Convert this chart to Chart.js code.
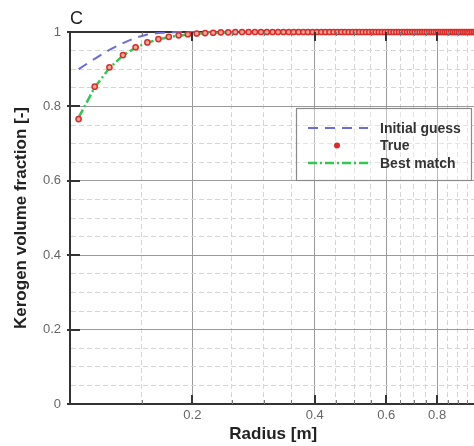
<!DOCTYPE html>
<html>
<head>
<meta charset="utf-8">
<script src="https://cdn.jsdelivr.net/npm/chart.js@4.4.1/dist/chart.umd.min.js"></script>
<style>
  html, body { margin: 0; padding: 0; background: #fff; overflow: hidden; }
  #wrap { width: 474px; height: 446px; overflow: hidden; }
</style>
</head>
<body>
<div id="wrap"><canvas id="chart" width="482" height="446"></canvas></div>
<script>
// radius samples [m]
const radius = [
  0.105, 0.115, 0.125, 0.135, 0.145, 0.155, 0.165, 0.175, 0.185, 0.195,
  0.205, 0.215, 0.225, 0.235, 0.245, 0.255, 0.265, 0.275, 0.285, 0.295,
  0.305, 0.315, 0.325, 0.335, 0.345, 0.355, 0.365, 0.375, 0.385, 0.395,
  0.405, 0.415, 0.425, 0.435, 0.445, 0.455, 0.465, 0.475, 0.485, 0.495,
  0.505, 0.515, 0.525, 0.535, 0.545, 0.555, 0.565, 0.575, 0.585, 0.595,
  0.605, 0.615, 0.625, 0.635, 0.645, 0.655, 0.665, 0.675, 0.685, 0.695,
  0.705, 0.715, 0.725, 0.735, 0.745, 0.755, 0.765, 0.775, 0.785, 0.795,
  0.805, 0.815, 0.825, 0.835, 0.845, 0.855, 0.865, 0.875, 0.885, 0.895,
  0.905, 0.915, 0.925, 0.935, 0.945, 0.955, 0.965, 0.975, 0.985, 0.995
];

const initialGuess = [
  0.900, 0.928, 0.952, 0.970, 0.985, 0.993, 0.997, 0.999, 1, 1,
  1, 1, 1, 1, 1, 1, 1, 1, 1, 1,
  1, 1, 1, 1, 1, 1, 1, 1, 1, 1,
  1, 1, 1, 1, 1, 1, 1, 1, 1, 1,
  1, 1, 1, 1, 1, 1, 1, 1, 1, 1,
  1, 1, 1, 1, 1, 1, 1, 1, 1, 1,
  1, 1, 1, 1, 1, 1, 1, 1, 1, 1,
  1, 1, 1, 1, 1, 1, 1, 1, 1, 1,
  1, 1, 1, 1, 1, 1, 1, 1, 1, 1
];

const trueFraction = [
  0.766, 0.853, 0.905, 0.938, 0.959, 0.972, 0.981, 0.987, 0.991, 0.994,
  0.996, 0.997, 0.998, 0.999, 0.999, 1, 1, 1, 1, 1,
  1, 1, 1, 1, 1, 1, 1, 1, 1, 1,
  1, 1, 1, 1, 1, 1, 1, 1, 1, 1,
  1, 1, 1, 1, 1, 1, 1, 1, 1, 1,
  1, 1, 1, 1, 1, 1, 1, 1, 1, 1,
  1, 1, 1, 1, 1, 1, 1, 1, 1, 1,
  1, 1, 1, 1, 1, 1, 1, 1, 1, 1,
  1, 1, 1, 1, 1, 1, 1, 1, 1, 1
];

const bestMatch = [
  0.770, 0.851, 0.903, 0.937, 0.958, 0.971, 0.980, 0.986, 0.990, 0.993,
  0.995, 0.997, 0.998, 0.998, 0.999, 0.999, 1, 1, 1, 1,
  1, 1, 1, 1, 1, 1, 1, 1, 1, 1,
  1, 1, 1, 1, 1, 1, 1, 1, 1, 1,
  1, 1, 1, 1, 1, 1, 1, 1, 1, 1,
  1, 1, 1, 1, 1, 1, 1, 1, 1, 1,
  1, 1, 1, 1, 1, 1, 1, 1, 1, 1,
  1, 1, 1, 1, 1, 1, 1, 1, 1, 1,
  1, 1, 1, 1, 1, 1, 1, 1, 1, 1
];

const xTickLabels = [0.2, 0.4, 0.6, 0.8];
const xMinorTicks = [0.15, 0.25, 0.3, 0.35, 0.45, 0.5, 0.55, 0.65, 0.7, 0.75, 0.85, 0.9, 0.95];
const yTickLabels = [0, 0.2, 0.4, 0.6, 0.8, 1];

const toPoints = ys => radius.map((r, i) => ({ x: r, y: ys[i] }));
const isMajorY = v => Math.abs(v * 5 - Math.round(v * 5)) < 1e-6;
const isMajorX = v => xTickLabels.some(t => Math.abs(t - v) < 1e-9);

// inward tick marks, panel letter and the boxed legend
const decorations = {
  id: 'decorations',
  afterDraw(chart) {
    const { ctx, chartArea: a, scales: { x, y } } = chart;
    const seg = (x1, y1, x2, y2) => { ctx.beginPath(); ctx.moveTo(x1, y1); ctx.lineTo(x2, y2); ctx.stroke(); };
    ctx.save();
    ctx.strokeStyle = '#333';
    ctx.lineWidth = 2;
    xTickLabels.forEach(v => {
      const px = Math.round(x.getPixelForValue(v));
      seg(px, a.bottom, px, a.bottom - 9);
      seg(px, a.top, px, a.top + 9);
    });
    yTickLabels.forEach(v => {
      const py = Math.round(y.getPixelForValue(v));
      seg(a.left - 3, py, a.left + 10, py);
    });
    ctx.lineWidth = 1;
    ctx.strokeStyle = '#777';
    xMinorTicks.forEach(v => {
      const px = Math.round(x.getPixelForValue(v)) + 0.5;
      seg(px, a.bottom, px, a.bottom - 4);
      seg(px, a.top, px, a.top + 4);
    });

    // panel letter
    ctx.fillStyle = '#222';
    ctx.font = '18px "Liberation Sans", Arial, sans-serif';
    ctx.textBaseline = 'alphabetic';
    ctx.textAlign = 'left';
    ctx.fillText('C', a.left, 24);

    // legend
    const lx = 296, ly = a.top + 76, lw = 175, lh = 72;
    ctx.fillStyle = 'rgba(255,255,255,0.35)';
    ctx.fillRect(lx, ly, lw, lh);
    ctx.strokeStyle = '#8a8a8a';
    ctx.lineWidth = 1.2;
    ctx.strokeRect(lx + 0.5, ly + 0.5, lw, lh);
    ctx.font = 'bold 14px "Liberation Sans", Arial, sans-serif';
    ctx.textBaseline = 'middle';
    const ds = chart.data.datasets;
    ds.forEach((d, i) => {
      const ry = ly + 20 + i * 17.5;
      if (d.showLine) {
        ctx.save();
        ctx.strokeStyle = d.borderColor;
        ctx.lineWidth = d.borderWidth;
        ctx.setLineDash(d.borderDash);
        seg(lx + 12, ry, lx + 72, ry);
        ctx.restore();
      } else {
        ctx.beginPath();
        ctx.arc(lx + 41, ry, 3, 0, Math.PI * 2);
        ctx.fillStyle = d.pointBorderColor;
        ctx.fill();
      }
      ctx.fillStyle = '#333';
      ctx.fillText(d.label, lx + 84, ry + 1);
    });
    ctx.restore();
  }
};

new Chart(document.getElementById('chart'), {
  type: 'scatter',
  data: {
    datasets: [
      {
        label: 'Initial guess',
        data: toPoints(initialGuess),
        showLine: true,
        borderColor: '#6b6bd9',
        borderWidth: 2,
        borderDash: [10, 7],
        pointRadius: 0,
        clip: 4,
        order: 3
      },
      {
        label: 'True',
        data: toPoints(trueFraction),
        showLine: false,
        pointRadius: 2.6,
        pointBorderWidth: 1.5,
        pointBorderColor: '#dc2b2b',
        pointBackgroundColor: '#f2a898',
        clip: false,
        order: 1
      },
      {
        label: 'Best match',
        data: toPoints(bestMatch),
        showLine: true,
        borderColor: '#2fc94f',
        borderWidth: 2.5,
        borderDash: [9, 3, 2, 3],
        pointRadius: 0,
        clip: 4,
        order: 2
      }
    ]
  },
  options: {
    responsive: false,
    animation: false,
    devicePixelRatio: 1,
    layout: { padding: { top: 32, left: 0, right: 1, bottom: 0 } },
    plugins: { legend: { display: false }, tooltip: { enabled: false } },
    scales: {
      x: {
        type: 'logarithmic',
        min: 0.1,
        max: 1,
        afterBuildTicks: s => {
          s.ticks = [0.1, ...xTickLabels, ...xMinorTicks, 1].sort((a, b) => a - b).map(v => ({ value: v }));
        },
        afterFit: s => { s.height = 42; },
        ticks: {
          autoSkip: false,
          maxRotation: 0,
          padding: 4,
          color: '#666',
          font: { family: '"Liberation Sans", Arial, sans-serif', size: 13 },
          callback: v => (isMajorX(v) ? String(v) : '')
        },
        grid: {
          drawTicks: false,
          color: c => (c.tick && isMajorX(c.tick.value) ? '#9a9a9a' : '#d6d6d6'),
          lineWidth: 1
        },
        border: {
          color: '#333',
          width: 2,
          dash: c => (c.tick && !isMajorX(c.tick.value) ? [5, 3] : [])
        },
        title: {
          display: true,
          text: 'Radius [m]',
          color: '#222',
          font: { family: '"Liberation Sans", Arial, sans-serif', size: 17, weight: 'bold' },
          padding: { top: 0, bottom: 1 }
        }
      },
      y: {
        min: 0,
        max: 1,
        afterFit: s => { s.width = 70; },
        ticks: {
          stepSize: 0.05,
          autoSkip: false,
          padding: 9,
          color: '#666',
          font: { family: '"Liberation Sans", Arial, sans-serif', size: 13 },
          callback: v => {
            const t = yTickLabels.find(l => Math.abs(l - v) < 1e-6);
            return t === undefined ? '' : String(t);
          }
        },
        grid: {
          drawTicks: false,
          color: c => {
            if (!c.tick) return '#d6d6d6';
            if (Math.abs(c.tick.value - 1) < 1e-6) return '#333';
            return isMajorY(c.tick.value) ? '#9a9a9a' : '#d6d6d6';
          },
          lineWidth: c => (c.tick && Math.abs(c.tick.value - 1) < 1e-6 ? 2 : 1)
        },
        border: {
          color: '#333',
          width: 2,
          dash: c => (c.tick && !isMajorY(c.tick.value) ? [5, 3] : [])
        },
        title: {
          display: true,
          text: 'Kerogen volume fraction [-]',
          color: '#222',
          font: { family: '"Liberation Sans", Arial, sans-serif', size: 17, weight: 'bold' },
          padding: { top: 11, bottom: 0 }
        }
      }
    }
  },
  plugins: [decorations]
});
</script>
</body>
</html>
